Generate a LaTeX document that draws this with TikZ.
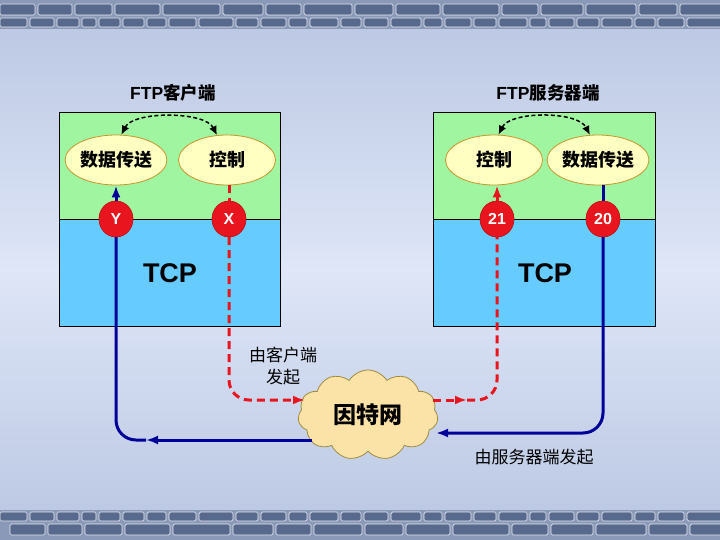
\documentclass[tikz,border=0pt]{standalone}
\usepackage{fontspec}
\setmainfont{Liberation Sans}
\newfontfamily\cjk{Noto Sans CJK SC}
\usetikzlibrary{shapes.symbols,shapes.geometric,arrows.meta}
\definecolor{bgmid}{HTML}{DEE6F7}
\definecolor{bgedge}{HTML}{B9C6E2}
\definecolor{bandc}{HTML}{8A99B8}
\definecolor{brickc}{HTML}{58698E}
\definecolor{greenc}{HTML}{A0F5A0}
\definecolor{bluec}{HTML}{66CCFF}
\definecolor{ellfill}{HTML}{FFFFC2}
\definecolor{elldraw}{HTML}{C8962A}
\definecolor{cloudfill}{HTML}{FBE3A8}
\definecolor{clouddraw}{HTML}{A08C3C}
\definecolor{navy}{HTML}{000099}
\definecolor{redc}{HTML}{E8141E}
\begin{document}
\begin{tikzpicture}[x=1pt,y=-1pt,
  brick/.style={fill=brickc,draw=white!80!bandc,line width=0.7pt,rounded corners=1.5pt},
  layerbox/.style={draw=black,line width=0.8pt,minimum width=221pt,minimum height=107pt,inner sep=0pt},
  ell/.style={ellipse,draw=elldraw,fill=ellfill,line width=0.8pt,minimum height=50pt,inner sep=0pt,
    font=\fontsize{18}{18}\selectfont\cjk\bfseries},
  port/.style={ellipse,fill=redc,draw=redc!80!black,minimum width=34pt,minimum height=36pt,inner sep=0pt,text=white,
    font=\fontsize{16}{16}\selectfont\bfseries},
  title/.style={font=\fontsize{17.5}{17.5}\selectfont\bfseries},
  tcp/.style={font=\fontsize{27}{27}\selectfont\bfseries},
  note/.style={font=\fontsize{17}{22}\selectfont\cjk,align=center},
  blueline/.style={draw=navy,line width=3pt},
  redline/.style={draw=redc,line width=3pt,dash pattern=on 8pt off 5pt},
  redsolid/.style={draw=redc,line width=3pt},
  tip/.style={-{Latex[length=12pt,width=9pt]}},
  swap/.style={{Latex[length=9pt,width=8pt]}-{Latex[length=9pt,width=8pt]},draw=black,line width=1.5pt,dash pattern=on 4pt off 2.5pt}
]
\useasboundingbox (0,0) rectangle (720,540);
% background
\shade[top color=bgedge,bottom color=bgedge,middle color=bgmid] (0,0) rectangle (720,540);
% bands
\fill[bandc] (0,0) rectangle (720,29);
\fill[bandc] (0,510) rectangle (720,540);
\foreach \s/\w in {0/35,38/34,75/37,115/45,163/57,223/40,266/35,304/48,355/38,396/44,443/56,502/36,541/42,586/50,639/38,680/42}
  {\path[brick] (\s,4) rectangle ++(\w,11); \path[brick] (\s+10,524) rectangle ++(\w,11);}
\foreach \s/\w in {0/27,30/24,57/22,82/14,99/21,123/21,147/19,169/27,199/34,236/22,261/25,289/18,310/28,341/20,364/24,391/30,424/18,445/26,474/22,499/28,530/16,549/25,577/22,602/30,635/20,658/26,687/35}
  {\path[brick] (\s,18) rectangle ++(\w,9); \path[brick] (\s,512) rectangle ++(\w,9);}
% titles
\node[title] (lt) at (173,93) {FTP{\cjk\bfseries 客户端}};
\node[title] (rt) at (548,93) {FTP{\cjk\bfseries 服务器端}};
% boxes
\node[layerbox,fill=greenc] (lg) at (169.5,165.5) {};
\node[layerbox,fill=bluec] (lb) at (169.5,272.5) {};
\node[layerbox,fill=greenc,minimum width=222pt] (rg) at (544,165.5) {};
\node[layerbox,fill=bluec,minimum width=222pt] (rb) at (544,272.5) {};
\node[tcp] (ltcp) at (170,273) {TCP};
\node[tcp] (rtcp) at (545,273) {TCP};
% ellipses
\node[ell,minimum width=91pt] (ldt) at (116,160) {数据传送};
\node[ell,minimum width=97pt] (lct) at (227,160) {控制};
\node[ell,minimum width=97pt] (rct) at (494,160) {控制};
\node[ell,minimum width=91pt] (rdt) at (598,160) {数据传送};
\draw[swap] (ldt.78) .. controls +(12,-24) and +(-12,-24) .. (lct.112);
\draw[swap] (rct.80) .. controls +(12,-24) and +(-12,-24) .. (rdt.108);
% ports
\node[port] (Y) at (116,219) {Y};
\node[port] (X) at (229,219) {X};
\node[port] (P21) at (497,219) {21};
\node[port] (P20) at (603,219) {20};
% cloud
\node[cloud,cloud puffs=11,cloud puff arc=115,aspect=1.6,minimum width=140pt,minimum height=90pt,
  inner sep=0pt,fill=cloudfill,draw=clouddraw,line width=0.8pt,
  font=\fontsize{23}{23}\selectfont\cjk\bfseries] (net) at (368,415) {因特网};
% connection coordinates
\coordinate (bl) at (312,440);
\coordinate (ba) at (146,440);
\coordinate (bc) at (116,440);
\coordinate (br) at (603,433);
\coordinate (be) at (436,433);
\coordinate (rc1) at (229,400);
\coordinate (re1) at (305,400);
\coordinate (rs2) at (433,400);
\coordinate (ra2) at (467,400);
\coordinate (rc2) at (497,400);
% blue data connection
\draw[blueline,tip] (Y.north) -- (Y.north |- ldt.south);
\draw[blueline,tip] (bl) -- (ba);
\draw[blueline,rounded corners=20pt] (ba) -- (bc) -- (Y.south);
\draw[blueline] (P20.north) -- (P20.north |- rdt.south);
\draw[blueline,rounded corners=20pt,tip] (P20.south) -- (br) -- (be);
% red control connection
\draw[redline] (X.north |- lct.south) -- (X.north);
\draw[redline,rounded corners=20pt,tip] (X.south) -- (rc1) -- (re1);
\draw[redline,tip] (rs2) -- (ra2);
\draw[redline,rounded corners=20pt] (ra2) -- (rc2) -- (P21.south);
\draw[redsolid,tip] (P21.north) -- (P21.north |- rct.south);
\node[port] at (X) {X};
\node[port] at (Y) {Y};
\node[port] at (P21) {21};
\node[port] at (P20) {20};
% notes
\node[note] (n1) at (283,366) {由客户端\\发起};
\node[note] (n2) at (534,457) {由服务器端发起};
\end{tikzpicture}
\end{document}
